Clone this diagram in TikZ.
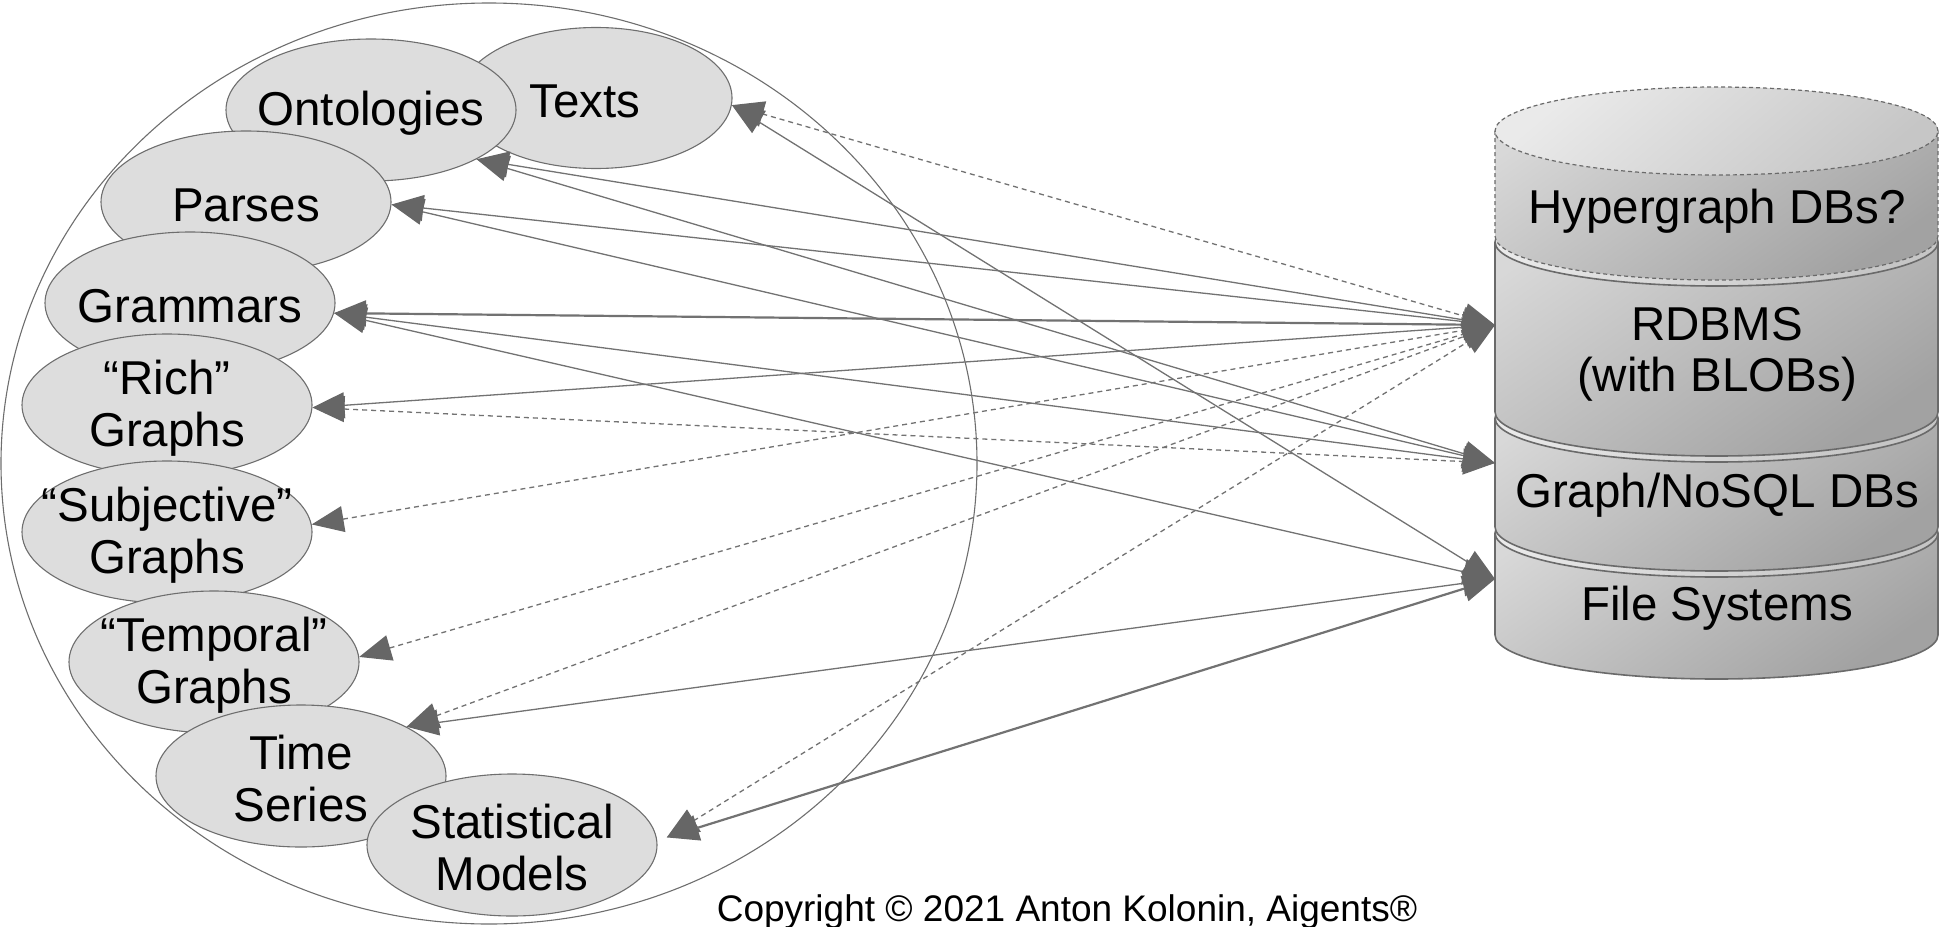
\documentclass[tikz,border=0pt]{standalone}
\usepackage{fontspec}
\setmainfont{Liberation Sans}
\usetikzlibrary{arrows.meta,shapes.geometric}

\definecolor{blobfill}{HTML}{DDDDDD}
\definecolor{blobline}{HTML}{6E6E6E}
\definecolor{linkgray}{HTML}{727272}
\definecolor{tipgray}{HTML}{666666}
\definecolor{canline}{HTML}{6A6A6A}
\definecolor{canlight}{HTML}{D8D8D8}
\definecolor{candark}{HTML}{A2A2A2}
\definecolor{lidlight}{HTML}{EAEAEA}
\definecolor{liddark}{HTML}{C6C6C6}

% one drum of the storage stack: #1 lid centre y, #2 base centre y, #3 outline style
\newcommand{\DrawCan}[3]{%
  \path[bodyshade] (1495,#1) -- (1495,#2)
     arc[start angle=180,end angle=360,x radius=221.5,y radius=44]
     -- (1938,#1) arc[start angle=0,end angle=180,x radius=221.5,y radius=44] -- cycle;
  \draw[canstroke,#3] (1495,#1) -- (1495,#2)
     arc[start angle=180,end angle=360,x radius=221.5,y radius=44] -- (1938,#1);
  \draw[canstroke,#3,lidshade] (1716.5,#1) ellipse[x radius=221.5,y radius=44];
}

\begin{document}
\begin{tikzpicture}[x=1pt,y=1pt,
  blob/.style={ellipse, draw=blobline, fill=blobfill, line width=1.1pt,
    minimum width=290pt, minimum height=142pt, inner sep=0pt},
  blobtext/.style={font=\fontsize{47.5}{52}\selectfont, align=center, inner sep=0pt, yshift=-3pt},
  dbtext/.style={font=\fontsize{47.5}{51}\selectfont, align=center, inner sep=0pt},
  link/.style={draw=linkgray, line width=1.3pt, {Triangle[length=32pt,width=26pt,color=tipgray]}-{Triangle[length=32pt,width=26pt,color=tipgray]}},
  dlink/.style={link, dash pattern=on 5pt off 4pt},
  heavy/.style={line width=2.2pt},
  bodyshade/.style={top color=canlight, bottom color=candark, shading angle=35},
  lidshade/.style={top color=lidlight, bottom color=liddark, shading angle=40},
  canstroke/.style={draw=canline, line width=1.6pt},
  dashedcan/.style={line width=1.2pt, dash pattern=on 4pt off 3pt}
]
\useasboundingbox (0,0) rectangle (1942,-926);

% enclosing oval
\node[ellipse, draw=blobline, line width=1.1pt, minimum width=976pt,
      minimum height=921pt, inner sep=0pt] (outer) at (489,-463.5) {};

% data kinds, back to front
\node[blob, minimum width=272pt, minimum height=141pt,
      label={[blobtext, xshift=-11pt]center:Texts}] (texts) at (596,-98) {};
\node[blob, label={[blobtext]center:Ontologies}] (ont) at (371,-110) {};
\node[blob, label={[blobtext]center:Parses}] (parses) at (246,-202) {};
\node[blob, label={[blobtext]center:Grammars}] (gram) at (190,-303) {};
\node[blob, label={[blobtext]center:{“Rich”\\Graphs}}] (rich) at (167,-405) {};
\node[blob, label={[blobtext]center:{“Subjective”\\Graphs}}] (subj) at (167,-532) {};
\node[blob, label={[blobtext]center:{“Temporal”\\Graphs}}] (temp) at (214,-662) {};
\node[blob, label={[blobtext]center:{Time\\Series}}] (ts) at (301,-776) {};
\node[blob, label={[blobtext]center:{Statistical\\Models}}] (stat) at (512,-845) {};

% storage stack, bottom drum first
\DrawCan{-533}{-635}{}
\DrawCan{-418}{-527}{}
\DrawCan{-242}{-412}{}
\DrawCan{-131}{-236}{dashedcan}

\node[dbtext] (hyper) at (1717,-211) {Hypergraph DBs?};
\node[dbtext] (rdbms) at (1717,-354) {RDBMS\\(with BLOBs)};
\node[dbtext] (nosql) at (1717,-495) {Graph/NoSQL DBs};
\node[dbtext] (files) at (1717,-608) {File Systems};

% ports on the stack wall
\coordinate (rdbPort) at (1495,-325);
\coordinate (nosqlPort) at (1495,-463);
\coordinate (filePort) at (1495,-579);

% links to the relational store
\draw[dlink] (texts.-3) -- (rdbPort);
\draw[link] (ont.-25) -- (rdbPort);
\draw[link] (parses.-1.5) -- (rdbPort);
\draw[link, heavy] (gram.-4) -- (rdbPort);
\draw[link] (rich.-1) -- (rdbPort);
\draw[dlink] (subj.3) -- (rdbPort);
\draw[dlink] (temp.2) -- (rdbPort);
\draw[dlink] (ts.25) -- (rdbPort);
\draw[dlink] ([xshift=10pt]stat.3) -- (rdbPort);

% links to graph / NoSQL stores
\draw[link] (ont.-25) -- (nosqlPort);
\draw[link] (parses.-1.5) -- (nosqlPort);
\draw[link] (gram.-4) -- (nosqlPort);
\draw[dlink] (rich.-1) -- (nosqlPort);

% links to file systems
\draw[link] (texts.-3) -- (filePort);
\draw[link] (gram.-4) -- (filePort);
\draw[link] (ts.25) -- (filePort);
\draw[link, heavy] ([xshift=10pt]stat.3) -- (filePort);

\node[font=\fontsize{37}{44}\selectfont, anchor=base, inner sep=0pt] (copyright)
  at (1067,-921) {Copyright © 2021 Anton Kolonin, Aigents®};
\end{tikzpicture}
\end{document}
